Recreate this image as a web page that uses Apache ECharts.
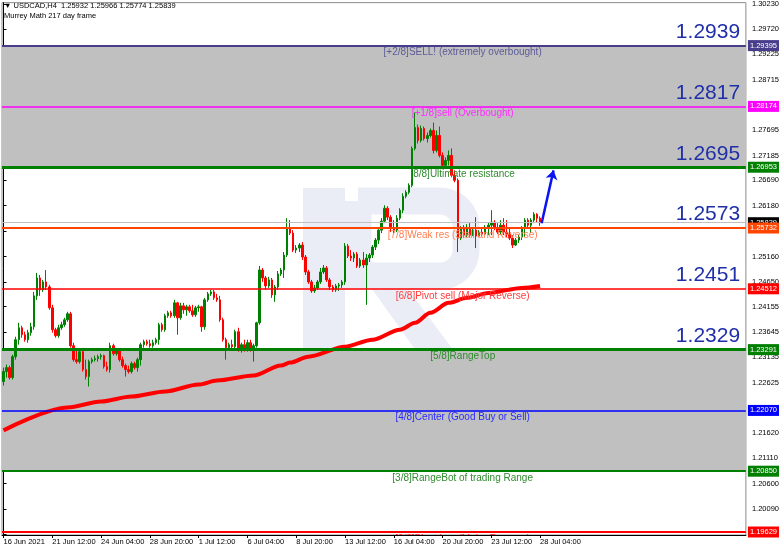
<!DOCTYPE html>
<html><head><meta charset="utf-8">
<script src="https://cdn.jsdelivr.net/npm/echarts/dist/echarts.min.js"></script>
<style>html,body{margin:0;padding:0;background:#fff}#c{width:782px;height:549px}</style>
</head><body><div id="c"></div>
<script>
const headerLine = '\u25BC USDCAD,H4  1.25932 1.25966 1.25774 1.25839';
const indicatorName = 'Murrey Math 217 day frame';
const xTickLabels = ['16 Jun 2021','21 Jun 12:00','24 Jun 04:00','28 Jun 20:00','1 Jul 12:00','6 Jul 04:00','8 Jul 20:00','13 Jul 12:00','16 Jul 04:00','20 Jul 20:00','23 Jul 12:00','28 Jul 04:00'];
const barsPerTick = 16;
const totalSlots = 244;
const yMin = 1.19569, yMax = 1.30257;
const yTickValues = [1.19580,1.20090,1.20600,1.21110,1.21620,1.22120,1.22625,1.23135,1.23645,1.24155,1.24650,1.25160,1.25670,1.26180,1.26690,1.27185,1.27695,1.28205,1.28715,1.29225,1.29720,1.30230];

// [open, close, low, high]
const candles = [
[1.2265,1.2285,1.2257,1.2293],[1.2285,1.2293,1.2273,1.2299],[1.2293,1.2273,1.2269,1.2297],[1.2273,1.2315,1.2269,1.2319],[1.2315,1.2349,1.2309,1.2355],
[1.2349,1.2373,1.2339,1.2383],[1.2373,1.2359,1.2353,1.2377],[1.2359,1.2349,1.2345,1.2365],[1.2349,1.2363,1.2343,1.2369],[1.2363,1.2375,1.2357,1.2383],
[1.2375,1.2437,1.2369,1.2445],[1.2437,1.2473,1.2429,1.2483],[1.2473,1.2449,1.2437,1.2479],[1.2449,1.2465,1.2445,1.2469],[1.2465,1.2455,1.2449,1.2489],
[1.2455,1.2413,1.2409,1.2459],[1.2413,1.2369,1.2363,1.2419],[1.2369,1.2357,1.2353,1.2373],[1.2357,1.2373,1.2353,1.2379],[1.2373,1.2379,1.2369,1.2385],
[1.2379,1.2389,1.2375,1.2393],[1.2389,1.2401,1.2385,1.2405],[1.2401,1.2337,1.2333,1.2405],[1.2337,1.2309,1.2305,1.2343],[1.2309,1.2305,1.2301,1.2329],
[1.2305,1.2325,1.2301,1.2329],[1.2325,1.2289,1.2285,1.2329],[1.2289,1.2275,1.2269,1.2309],[1.2275,1.2305,1.2255,1.2309],[1.2305,1.2309,1.2301,1.2313],
[1.2309,1.2311,1.2305,1.2317],[1.2311,1.2315,1.2305,1.2319],[1.2315,1.2317,1.2309,1.2321],[1.2317,1.2295,1.2291,1.2319],[1.2295,1.2289,1.2285,1.2305],
[1.2289,1.2337,1.2283,1.2343],[1.2337,1.2321,1.2317,1.2341],[1.2321,1.2327,1.2317,1.2331],[1.2327,1.2309,1.2305,1.2331],[1.2309,1.2297,1.2293,1.2315],
[1.2297,1.2289,1.2275,1.2301],[1.2289,1.2285,1.2281,1.2297],[1.2285,1.2301,1.2281,1.2305],[1.2301,1.2293,1.2289,1.2305],[1.2293,1.2309,1.2285,1.2313],
[1.2309,1.2339,1.2297,1.2343],[1.2339,1.2345,1.2333,1.2349],[1.2345,1.2341,1.2337,1.2349],[1.2341,1.2337,1.2333,1.2349],[1.2337,1.2343,1.2333,1.2349],
[1.2343,1.2349,1.2339,1.2353],[1.2349,1.2379,1.2339,1.2383],[1.2379,1.2369,1.2365,1.2383],[1.2369,1.2397,1.2365,1.2401],[1.2397,1.2403,1.2393,1.2407],
[1.2403,1.2397,1.2393,1.2407],[1.2397,1.2423,1.2393,1.2429],[1.2423,1.2393,1.2359,1.2425],[1.2393,1.2417,1.2389,1.2423],[1.2417,1.2409,1.2401,1.2423],
[1.2409,1.2415,1.2397,1.2419],[1.2415,1.2407,1.2403,1.2419],[1.2407,1.2399,1.2395,1.2419],[1.2399,1.2413,1.2395,1.2417],[1.2413,1.2415,1.2405,1.2419],
[1.2415,1.2375,1.2365,1.2417],[1.2375,1.2429,1.2369,1.2433],[1.2429,1.2441,1.2425,1.2445],[1.2441,1.2445,1.2437,1.2449],[1.2445,1.2433,1.2429,1.2449],
[1.2433,1.2429,1.2425,1.2441],[1.2429,1.2389,1.2385,1.2437],[1.2389,1.2349,1.2345,1.2393],[1.2349,1.2333,1.2309,1.2353],[1.2333,1.2339,1.2329,1.2343],
[1.2339,1.2335,1.2329,1.2349],[1.2335,1.2365,1.2329,1.2369],[1.2365,1.2329,1.2325,1.2373],[1.2329,1.2339,1.2323,1.2343],[1.2339,1.2329,1.2325,1.2349],
[1.2329,1.2343,1.2325,1.2349],[1.2343,1.2329,1.2325,1.2349],[1.2329,1.2337,1.2305,1.2341],[1.2337,1.2383,1.2333,1.2385],[1.2383,1.2489,1.2379,1.2497],
[1.2489,1.2473,1.2465,1.2493],[1.2473,1.2457,1.2449,1.2477],[1.2457,1.2469,1.2453,1.2475],[1.2469,1.2439,1.2433,1.2473],[1.2439,1.2455,1.2425,1.2459],
[1.2455,1.2481,1.2449,1.2487],[1.2481,1.2489,1.2477,1.2493],[1.2489,1.2519,1.2473,1.2525],[1.2519,1.2573,1.2515,1.2593],[1.2573,1.2563,1.2559,1.2589],
[1.2563,1.2529,1.2525,1.2569],[1.2529,1.2533,1.2523,1.2539],[1.2533,1.2539,1.2525,1.2543],[1.2539,1.2515,1.2509,1.2545],[1.2515,1.2485,1.2479,1.2519],
[1.2485,1.2465,1.2461,1.2489],[1.2465,1.2447,1.2443,1.2469],[1.2447,1.2453,1.2443,1.2459],[1.2453,1.2465,1.2449,1.2469],[1.2465,1.2485,1.2461,1.2493],
[1.2485,1.2493,1.2481,1.2499],[1.2493,1.2469,1.2465,1.2497],[1.2469,1.2455,1.2449,1.2473],[1.2455,1.2449,1.2445,1.2459],[1.2449,1.2457,1.2445,1.2461],
[1.2457,1.2459,1.2447,1.2463],[1.2459,1.2465,1.2453,1.2469],[1.2465,1.2537,1.2459,1.2543],[1.2537,1.2517,1.2513,1.2541],[1.2517,1.2513,1.2507,1.2529],
[1.2513,1.2521,1.2505,1.2525],[1.2521,1.2497,1.2493,1.2525],[1.2497,1.2509,1.2493,1.2513],[1.2509,1.2499,1.2493,1.2525],[1.2499,1.2513,1.2419,1.2521],
[1.2513,1.2519,1.2505,1.2523],[1.2519,1.2535,1.2513,1.2539],[1.2535,1.2549,1.2529,1.2553],[1.2549,1.2569,1.2541,1.2573],[1.2569,1.2587,1.2563,1.2593],
[1.2587,1.2613,1.2583,1.2619],[1.2613,1.2595,1.2589,1.2617],[1.2595,1.2573,1.2565,1.2599],[1.2573,1.2569,1.2563,1.2589],[1.2569,1.2593,1.2565,1.2599],
[1.2593,1.2609,1.2589,1.2613],[1.2609,1.2637,1.2603,1.2643],[1.2637,1.2645,1.2633,1.2649],[1.2645,1.2659,1.2641,1.2663],[1.2659,1.2733,1.2655,1.2737],
[1.2733,1.2775,1.2729,1.2805],[1.2775,1.2749,1.2743,1.2781],[1.2749,1.2773,1.2745,1.2779],[1.2773,1.2753,1.2749,1.2777],[1.2753,1.2759,1.2745,1.2765],
[1.2759,1.2769,1.2755,1.2773],[1.2769,1.2729,1.2723,1.2785],[1.2729,1.2759,1.2725,1.2769],[1.2759,1.2719,1.2715,1.2777],[1.2719,1.2699,1.2695,1.2725],
[1.2699,1.2709,1.2693,1.2715],[1.2709,1.2719,1.2699,1.2729],[1.2719,1.2679,1.2675,1.2733],[1.2679,1.2669,1.2665,1.2689],[1.2669,1.2553,1.2525,1.2673],
[1.2553,1.2573,1.2549,1.2577],[1.2573,1.2559,1.2553,1.2579],[1.2559,1.2573,1.2555,1.2581],[1.2573,1.2559,1.2555,1.2583],[1.2559,1.2569,1.2557,1.2573],
[1.2569,1.2557,1.2533,1.2595],[1.2557,1.2565,1.2555,1.2569],[1.2565,1.2561,1.2557,1.2575],[1.2561,1.2573,1.2559,1.2579],[1.2573,1.2579,1.2559,1.2585],
[1.2579,1.2585,1.2559,1.2609],[1.2585,1.2573,1.2569,1.2589],[1.2573,1.2565,1.2561,1.2583],[1.2565,1.2579,1.2559,1.2589],[1.2579,1.2565,1.2559,1.2593],
[1.2565,1.2561,1.2555,1.2589],[1.2561,1.2553,1.2549,1.2573],[1.2553,1.2539,1.2533,1.2559],[1.2539,1.2549,1.2537,1.2553],[1.2549,1.2555,1.2543,1.2559],
[1.2555,1.2573,1.2549,1.2577],[1.2573,1.2589,1.2555,1.2593],[1.2589,1.2579,1.2573,1.2593],[1.2579,1.2589,1.2563,1.2593],[1.2589,1.2601,1.2583,1.2605],
[1.2601,1.2593,1.2585,1.2603],[1.25932,1.25839,1.25774,1.25966]
];

// 217-period moving average, read at selected bars: [bar, value]
const maPoints = [[0,1.2167],[21,1.2213],[32,1.2225],[42,1.2235],[53,1.2245],[64,1.2259],[70,1.2267],[82,1.2277],[91,1.2297],[94,1.2303],[100,1.2315],[112,1.2335],[121,1.2349],[130,1.2369],[135,1.2383],[140,1.2403],[146,1.2423],[152,1.2433],[159,1.2443],[170,1.2453],[176,1.2457]];

const levelValues = [1.29395,1.28174,1.26953,1.25732,1.24512,1.23291,1.22070,1.20850,1.19629];
const levelNames = ['[+2/8]SELL! (extremely overbought)','[+1/8]sell (Overbought)','[8/8]Ultimate resistance','[7/8]Weak res (Stall and Reverse)','[6/8]Pivot sell (Major Reverse)','[5/8]RangeTop','[4/8]Center (Good Buy or Sell)','[3/8]RangeBot of trading Range','[2/8]Pivot buy (Major Reverse)'];
const levelColors = ['#483D8B','#FF00FF','#008000','#FF4500','#FF0000','#008000','#0000FF','#008000','#FF0000'];
const levelTextColors = ['#5b5b98','#ff2bff','#2e8b2e','#ff7f50','#ff3b3b','#2e8b2e','#2a2aff','#2e8b2e','#ff2020'];
const levelWidths = [2,1.5,3,2,1.5,3,1.5,2,2];
const bigLevelLabels = ['1.2939','1.2817','1.2695','1.2573','1.2451','1.2329'];
const shadedBands = [[1.26953,1.29395],[1.20850,1.23291]];
const currentPrice = 1.25839;
const arrowFrom = [176.5,1.2583];
const arrowTo = [180.4,1.2689];
const levelTextBar = 150.6;
const bigLabelBar = 241.6;

const FONT = '"Liberation Sans", Arial, sans-serif';
const WM = '#eaedf5';
const slots = Array.from({length: totalSlots}, (_, i) => String(i));
const showTick = (i) => i % barsPerTick === 0 && i / barsPerTick < xTickLabels.length;

const chart = echarts.init(document.getElementById('c'), null, {renderer: 'canvas'});

const levelLines = levelValues.map((v, i) => ({
  yAxis: v,
  lineStyle: {color: levelColors[i], width: levelWidths[i], type: 'solid'},
  label: {show: true, position: 'end', distance: 2, formatter: v.toFixed(5), backgroundColor: levelColors[i], color: '#fff', fontSize: 7.5, fontFamily: FONT, padding: [2, 2, 1, 2]}
}));
levelLines.unshift({
  yAxis: currentPrice,
  lineStyle: {color: '#c0c0c0', width: 1, type: 'solid'},
  label: {show: true, position: 'end', distance: 2, formatter: currentPrice.toFixed(5), backgroundColor: '#000', color: '#fff', fontSize: 7.5, fontFamily: FONT, padding: [2, 2, 1, 2]}
});

const option = {
  animation: false,
  backgroundColor: '#fff',
  title: [
    {text: headerLine, left: 4, top: 2, padding: 0, textStyle: {fontSize: 7.5, fontWeight: 'normal', color: '#000', fontFamily: FONT}},
    {text: indicatorName, left: 4, top: 12, padding: 0, textStyle: {fontSize: 7.5, fontWeight: 'normal', color: '#000', fontFamily: FONT}}
  ],
  grid: {left: 2, right: 34, top: 2, bottom: 14, show: true, borderColor: '#8c8c8c', borderWidth: 1, backgroundColor: 'transparent'},
  xAxis: [
    {type: 'category', data: slots, boundaryGap: true,
     axisLine: {show: true, lineStyle: {color: '#000', width: 1}},
     axisTick: {show: true, alignWithLabel: true, interval: (i) => showTick(i), length: 3, lineStyle: {color: '#000'}},
     axisLabel: {interval: (i) => showTick(i), formatter: (v, i) => xTickLabels[i / barsPerTick] || '', align: 'left', fontSize: 7.5, fontFamily: FONT, color: '#000', margin: 3},
     splitLine: {show: false}},
    {type: 'value', min: -0.5, max: totalSlots - 0.5, show: false}
  ],
  yAxis: {type: 'value', position: 'right', min: yMin, max: yMax, scale: true,
    splitLine: {show: false},
    axisLine: {show: true, lineStyle: {color: '#000', width: 1}},
    axisTick: {show: true, customValues: yTickValues, length: 3, lineStyle: {color: '#000'}},
    axisLabel: {customValues: yTickValues, formatter: (v) => Number(v).toFixed(5), fontSize: 7.5, fontFamily: FONT, color: '#000', margin: 6}},
  graphic: {elements: [
    {type: 'rect', z: 0, silent: true, shape: {x: 303, y: 188, width: 42, height: 174}, style: {fill: WM}},
    {type: 'rect', z: 0, silent: true, shape: {x: 358, y: 201, width: 108, height: 75, r: [0, 26, 26, 0]}, style: {fill: 'none', stroke: WM, lineWidth: 27}},
    {type: 'polygon', z: 0, silent: true, shape: {points: [[372, 289], [408, 289], [462, 362], [424, 362]]}, style: {fill: WM}}
  ]},
  series: [
    {type: 'line', name: 'bands', data: [], z: 1, silent: true,
     markArea: {silent: true, precision: 5, itemStyle: {color: '#c0c0c0'}, data: shadedBands.map(b => [{yAxis: b[0]}, {yAxis: b[1]}])}},
    {type: 'candlestick', name: 'USDCAD', data: candles, z: 2, barWidth: 2,
     itemStyle: {color: '#008000', color0: '#ff0000', borderColor: '#008000', borderColor0: '#ff0000', borderWidth: 1}},
    {type: 'line', name: 'levels', data: [], z: 3, silent: true,
     markLine: {silent: true, precision: 5, symbol: ['none', 'none'], animation: false, data: levelLines}},
    {type: 'line', name: 'MA217', xAxisIndex: 1, data: maPoints, z: 4, smooth: 0.3, smoothMonotone: 'x', showSymbol: false, symbol: 'none',
     lineStyle: {color: '#ff0000', width: 4}},
    {type: 'custom', name: 'levelTexts', xAxisIndex: 1, z: 5, clip: true, silent: true,
     data: levelValues.map((v, i) => [levelTextBar, v, i]),
     renderItem: function (params, api) {
       const i = api.value(2);
       const p = api.coord([api.value(0), api.value(1)]);
       return {type: 'text', x: p[0], y: p[1] + 2, style: {text: levelNames[i], fill: levelTextColors[i], font: '10px ' + FONT, align: 'center', verticalAlign: 'top', textAlign: 'center', textVerticalAlign: 'top'}};
     }},
    {type: 'custom', name: 'bigLabels', xAxisIndex: 1, z: 5, clip: true, silent: true,
     data: bigLevelLabels.map((t, i) => [bigLabelBar, levelValues[i], i]),
     renderItem: function (params, api) {
       const i = api.value(2);
       const p = api.coord([api.value(0), api.value(1)]);
       return {type: 'text', x: p[0], y: p[1] - 3, style: {text: bigLevelLabels[i], fill: '#1f2fa8', font: '21px ' + FONT, align: 'right', verticalAlign: 'bottom', textAlign: 'right', textVerticalAlign: 'bottom'}};
     }},
    {type: 'line', name: 'arrow', xAxisIndex: 1, data: [], z: 6, silent: true,
     markLine: {silent: true, precision: 5, symbol: ['none', 'arrow'], symbolSize: 9, label: {show: false},
       lineStyle: {color: '#0a14f0', width: 2.5, type: 'solid'},
       data: [[{coord: arrowFrom}, {coord: arrowTo}]]}}
  ]
};
chart.setOption(option);
</script>
</body></html>
